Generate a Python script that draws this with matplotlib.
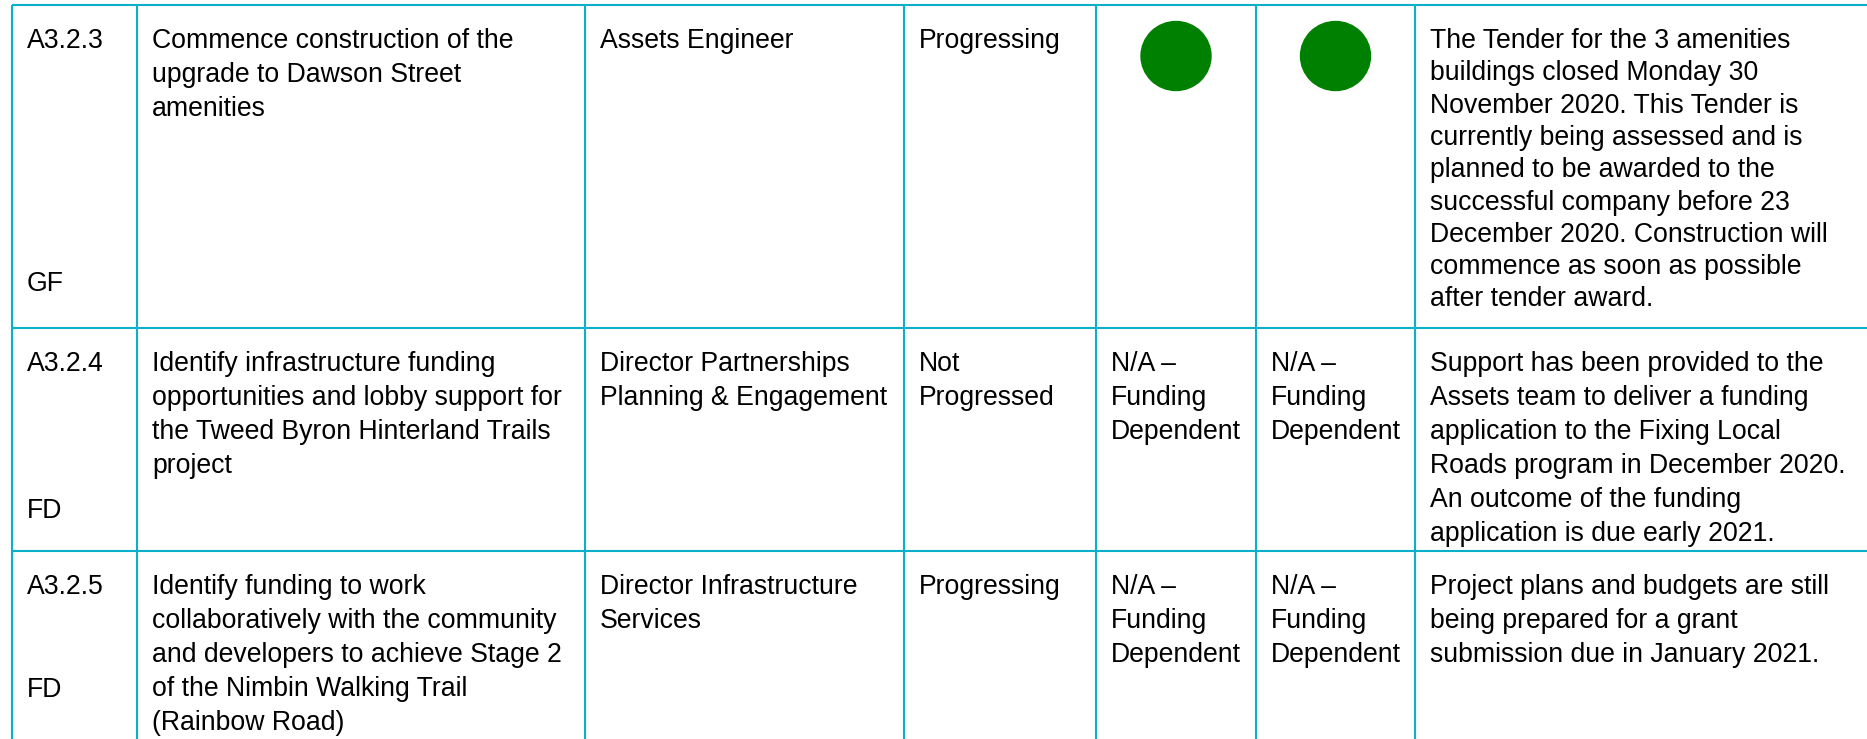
import matplotlib
matplotlib.use("Agg")
import matplotlib.pyplot as plt
from matplotlib.patches import Ellipse

# ---------------- du lieu bang ----------------
codes = ["A3.2.3", "A3.2.4", "A3.2.5"]
tags = ["GF", "FD", "FD"]

actions = [
    "Commence construction of the\nupgrade to Dawson Street\namenities",
    "Identify infrastructure funding\nopportunities and lobby support for\nthe Tweed Byron Hinterland Trails\nproject",
    "Identify funding to work\ncollaboratively with the community\nand developers to achieve Stage 2\nof the Nimbin Walking Trail\n(Rainbow Road)",
]
responsible = [
    "Assets Engineer",
    "Director Partnerships\nPlanning & Engagement",
    "Director Infrastructure\nServices",
]
status = ["Progressing", "Not\nProgressed", "Progressing"]
rating_1 = ["green", "N/A \u2013\nFunding\nDependent", "N/A \u2013\nFunding\nDependent"]
rating_2 = ["green", "N/A \u2013\nFunding\nDependent", "N/A \u2013\nFunding\nDependent"]
comments = [
    "The Tender for the 3 amenities\nbuildings closed Monday 30\nNovember 2020. This Tender is\ncurrently being assessed and is\nplanned to be awarded to the\nsuccessful company before 23\nDecember 2020. Construction will\ncommence as soon as possible\nafter tender award.",
    "Support has been provided to the\nAssets team to deliver a funding\napplication to the Fixing Local\nRoads program in December 2020.\nAn outcome of the funding\napplication is due early 2021.",
    "Project plans and budgets are still\nbeing prepared for a grant\nsubmission due in January 2021.",
]

# ---------------- bo cuc (pixel) ----------------
W, H = 1867, 739
col_x = [12, 137, 585, 904, 1096, 1256, 1415]
row_y = [5, 328, 551]
pad = 15
first_base = 43
line_h = 34
tag_base = [286, 190, 146]      # vi tri dong GF/FD tinh tu dinh o
comment_h = [32.3, 34, 34]
line_color = "#0ab0ca"

fig = plt.figure(figsize=(W / 100, H / 100), dpi=100)
ax = fig.add_axes([0, 0, 1, 1])
ax.set_xlim(0, W)
ax.set_ylim(H, 0)
ax.axis("off")

# duong ke
for y in row_y:
    ax.plot([col_x[0], W], [y, y], color=line_color, lw=1.5, solid_capstyle="butt")
for x in col_x:
    ax.plot([x, x], [row_y[0], H], color=line_color, lw=1.5, solid_capstyle="butt")

font = dict(family="Liberation Sans", fontsize=19.2, color="black", va="baseline")


def ghi_chu(x, y0, txt, buoc=line_h):
    for i, dong in enumerate(txt.split("\n")):
        ax.text(x + pad, y0 + i * buoc, dong, **font)


for r in range(len(codes)):
    top = row_y[r]
    y0 = top + first_base
    ghi_chu(col_x[0], y0, codes[r])
    ghi_chu(col_x[0], top + tag_base[r], tags[r])
    ghi_chu(col_x[1], y0, actions[r])
    ghi_chu(col_x[2], y0, responsible[r])
    ghi_chu(col_x[3], y0, status[r])
    for c, val in ((4, rating_1[r]), (5, rating_2[r])):
        if val == "green":
            cx = (col_x[c] + col_x[c + 1]) / 2
            ax.add_patch(Ellipse((cx, top + 51), 70, 69, color="#008000"))
        else:
            ghi_chu(col_x[c], y0, val)
    ghi_chu(col_x[6], y0, comments[r], buoc=comment_h[r])

fig.savefig("out.png", dpi=100)
